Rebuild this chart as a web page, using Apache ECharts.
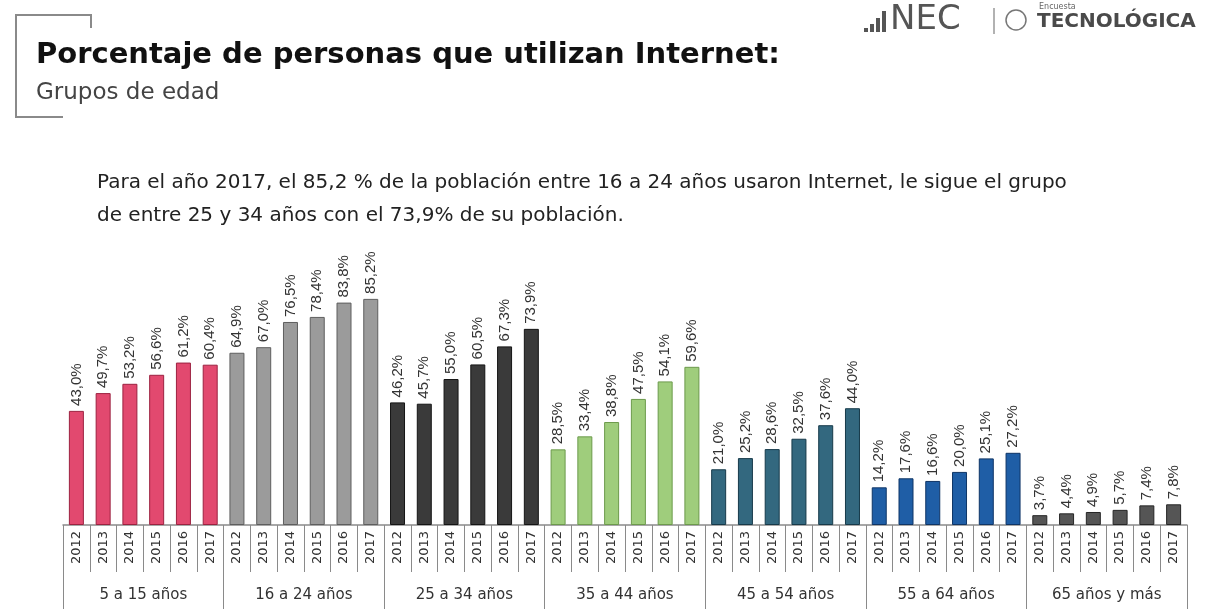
<!DOCTYPE html>
<html lang="es">
  <head>
    <meta charset="UTF-8" />
    <title>Porcentaje de personas que utilizan Internet</title>
    <style>
      body {
        margin: 0;
        background-color: #ffffff;
      }
      #chart {
        width: 1215px;
        height: 612px;
      }
    </style>
  </head>
  <body>
    <div id="chart"></div>
    <script src="https://cdn.jsdelivr.net/npm/echarts@6/dist/echarts.min.js"></script>
    <script>
      // datos
      const years = ["2012", "2013", "2014", "2015", "2016", "2017"];
      const groups = [
        "5 a 15 años",
        "16 a 24 años",
        "25 a 34 años",
        "35 a 44 años",
        "45 a 54 años",
        "55 a 64 años",
        "65 años y más",
      ];
      const g5a15 = [43.0, 49.7, 53.2, 56.6, 61.2, 60.4];
      const g16a24 = [64.9, 67.0, 76.5, 78.4, 83.8, 85.2];
      const g25a34 = [46.2, 45.7, 55.0, 60.5, 67.3, 73.9];
      const g35a44 = [28.5, 33.4, 38.8, 47.5, 54.1, 59.6];
      const g45a54 = [21.0, 25.2, 28.6, 32.5, 37.6, 44.0];
      const g55a64 = [14.2, 17.6, 16.6, 20.0, 25.1, 27.2];
      const g65mas = [3.7, 4.4, 4.9, 5.7, 7.4, 7.8];

      const groupValues = [g5a15, g16a24, g25a34, g35a44, g45a54, g55a64, g65mas];
      const groupColors = [
        ["#e2496f", "#9c2240"],
        ["#9b9b9b", "#5e5e5e"],
        ["#3a3a3a", "#151515"],
        ["#9fcd7c", "#6c9a4c"],
        ["#33687f", "#173a4a"],
        ["#1f5ea6", "#0f3566"],
        ["#555555", "#262626"],
      ];

      const yearCats = [];
      const barData = [];
      groupValues.forEach((vals, gi) => {
        vals.forEach((v, i) => {
          yearCats.push(years[i]);
          barData.push({
            value: v,
            itemStyle: {
              color: groupColors[gi][0],
              borderColor: groupColors[gi][1],
              borderWidth: 1,
            },
          });
        });
      });

      const chart = echarts.init(document.getElementById("chart"));
      chart.setOption({
        animation: false,
        backgroundColor: "#ffffff",
        textStyle: { fontFamily: "DejaVu Sans" },
        title: {
          text: "Porcentaje de personas que utilizan Internet:",
          subtext: "Grupos de edad",
          left: 31,
          top: 36,
          itemGap: 12,
          textStyle: {
            fontFamily: "DejaVu Sans",
            fontSize: 29,
            fontWeight: "bold",
            color: "#111111",
          },
          subtextStyle: {
            fontFamily: "DejaVu Sans",
            fontSize: 23,
            color: "#444444",
          },
        },
        graphic: [
          // corchete del titulo
          {
            type: "polyline",
            shape: { points: [[91, 28], [91, 15], [16, 15], [16, 117], [63, 117]] },
            style: { stroke: "#8a8a8a", lineWidth: 2, fill: null },
          },
          // texto descriptivo
          {
            type: "text",
            left: 97,
            top: 173,
            style: {
              text: "Para el año 2017, el 85,2 % de la población entre 16 a 24 años usaron Internet, le sigue el grupo",
              font: "20px DejaVu Sans",
              fill: "#222222",
            },
          },
          {
            type: "text",
            left: 97,
            top: 206,
            style: {
              text: "de entre 25 y 34 años con el 73,9% de su población.",
              font: "20px DejaVu Sans",
              fill: "#222222",
            },
          },
          // logo
          { type: "rect", shape: { x: 864, y: 28, width: 4, height: 4 }, style: { fill: "#555" } },
          { type: "rect", shape: { x: 870, y: 24, width: 4, height: 8 }, style: { fill: "#555" } },
          { type: "rect", shape: { x: 876, y: 18, width: 4, height: 14 }, style: { fill: "#555" } },
          { type: "rect", shape: { x: 882, y: 11, width: 4, height: 21 }, style: { fill: "#555" } },
          {
            type: "text",
            left: 890,
            top: 3,
            style: { text: "NEC", font: "34px DejaVu Sans", fill: "#555555" },
          },
          {
            type: "line",
            shape: { x1: 994, y1: 8, x2: 994, y2: 34 },
            style: { stroke: "#999", lineWidth: 1.5 },
          },
          {
            type: "circle",
            shape: { cx: 1016, cy: 20, r: 10 },
            style: { stroke: "#777", lineWidth: 1.5, fill: null },
          },
          {
            type: "text",
            left: 1039,
            top: 3,
            style: { text: "Encuesta", font: "8px DejaVu Sans", fill: "#666" },
          },
          {
            type: "text",
            left: 1037,
            top: 12,
            style: { text: "TECNOLÓGICA", font: "bold 20px DejaVu Sans", fill: "#4a4a4a" },
          },
        ],
        grid: {
          left: 63,
          right: 28,
          top: 259.6,
          bottom: 87,
        },
        xAxis: [
          {
            type: "category",
            data: yearCats,
            axisLine: { lineStyle: { color: "#8a8a8a", width: 1.5 } },
            axisTick: { show: true, length: 47, lineStyle: { color: "#8a8a8a" } },
            axisLabel: {
              interval: 0,
              rotate: 90,
              margin: 6,
              fontSize: 13,
              color: "#333333",
            },
          },
          {
            type: "category",
            data: groups,
            position: "bottom",
            axisLine: { show: false },
            axisTick: { show: true, length: 84, lineStyle: { color: "#8a8a8a" } },
            axisLabel: {
              interval: 0,
              margin: 63,
              fontSize: 15,
              color: "#333333",
            },
          },
        ],
        yAxis: {
          type: "value",
          min: 0,
          max: 100,
          show: false,
          splitLine: { show: false },
        },
        series: [
          {
            type: "bar",
            xAxisIndex: 0,
            barWidth: 15,
            data: barData,
            label: {
              show: true,
              position: "top",
              rotate: 90,
              align: "left",
              verticalAlign: "middle",
              distance: 5,
              fontFamily: "Liberation Sans",
              fontSize: 15,
              color: "#333333",
              formatter: (p) => p.value.toFixed(1).replace(".", ",") + "%",
            },
          },
        ],
      });
    </script>
  </body>
</html>
